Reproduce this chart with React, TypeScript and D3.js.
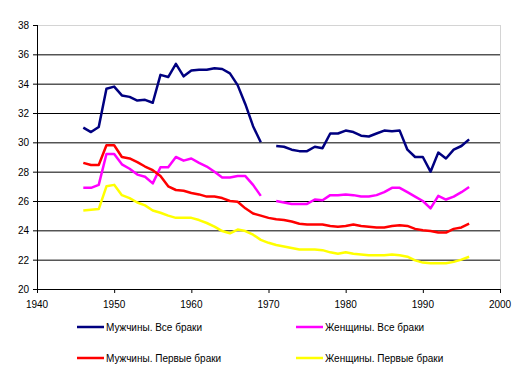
import React from "react";
import * as d3 from "d3";

const years = d3.range(1946, 1997);

// Мужчины. Все браки
const menAll = [
  31.0, 30.7, 31.05, 33.65, 33.8, 33.2, 33.1, 32.85, 32.9, 32.7,
  34.6, 34.45, 35.35, 34.5, 34.9, 34.95, 34.95, 35.05, 35.0, 34.7,
  33.9, 32.6, 31.1, 30.0, null, 29.75, 29.7, 29.5, 29.4, 29.4,
  29.7, 29.6, 30.6, 30.6, 30.8, 30.7, 30.45, 30.4, 30.6, 30.8,
  30.75, 30.8, 29.5, 29.0, 29.0, 28.0, 29.3, 28.9, 29.5, 29.75, 30.2,
];
// Женщины. Все браки
const womenAll = [
  26.9, 26.9, 27.1, 29.2, 29.2, 28.5, 28.2, 27.8, 27.65, 27.2,
  28.3, 28.3, 29.0, 28.75, 28.9, 28.6, 28.35, 28.0, 27.6, 27.6,
  27.7, 27.7, 27.1, 26.35, null, 26.0, 25.9, 25.8, 25.8, 25.8,
  26.1, 26.05, 26.4, 26.4, 26.45, 26.4, 26.3, 26.3, 26.4, 26.6,
  26.9, 26.9, 26.6, 26.3, 26.0, 25.5, 26.35, 26.1, 26.3, 26.6, 26.95,
];
// Мужчины. Первые браки
const menFirst = [
  28.6, 28.45, 28.45, 29.8, 29.8, 29.0, 28.9, 28.65, 28.35, 28.1,
  27.7, 27.0, 26.75, 26.7, 26.55, 26.45, 26.3, 26.3, 26.2, 26.0,
  25.95, 25.5, 25.15, 25.0, 24.85, 24.75, 24.7, 24.6, 24.45, 24.4,
  24.4, 24.4, 24.3, 24.25, 24.3, 24.4, 24.3, 24.25, 24.2, 24.2,
  24.3, 24.35, 24.3, 24.1, 24.0, 23.95, 23.85, 23.85, 24.1, 24.2, 24.45,
];
// Женщины. Первые браки
const womenFirst = [
  25.35, 25.4, 25.45, 27.0, 27.1, 26.4, 26.2, 25.9, 25.7, 25.35,
  25.2, 25.0, 24.85, 24.85, 24.85, 24.7, 24.5, 24.25, 23.95, 23.8,
  24.05, 23.95, 23.7, 23.35, 23.15, 23.0, 22.9, 22.8, 22.7, 22.7,
  22.7, 22.65, 22.5, 22.4, 22.5, 22.4, 22.35, 22.3, 22.3, 22.3,
  22.35, 22.3, 22.2, 21.95, 21.8, 21.75, 21.75, 21.75, 21.85, 22.0, 22.2,
];

const xTicks = [1940, 1950, 1960, 1970, 1980, 1990, 2000];
const yTicks = [20, 22, 24, 26, 28, 30, 32, 34, 36, 38];

const series = [
  { name: "Мужчины. Все браки", values: menAll, color: "#000080" },
  { name: "Женщины. Все браки", values: womenAll, color: "#FF00FF" },
  { name: "Мужчины. Первые браки", values: menFirst, color: "#FF0000" },
  { name: "Женщины. Первые браки", values: womenFirst, color: "#FFFF00" },
];

const W = 529;
const H = 373;
const left = 37;
const right = 500;
const top = 25;
const bottom = 289;
const font = "'Liberation Sans', Arial, sans-serif";

export default function App() {
  const x = d3.scaleLinear().domain([1940, 2000]).range([left, right]);
  const y = d3.scaleLinear().domain([20, 38]).range([bottom, top]);

  const line = d3
    .line<number | null>()
    .defined((d) => d != null)
    .x((_, i) => x(years[i]))
    .y((d) => y(d as number));

  return (
    <svg
      width={W}
      height={H}
      style={{ position: "absolute", left: 0, top: 0, background: "#fff" }}
    >
      {/* grid */}
      {yTicks.slice(1).map((t) => (
        <line
          key={t}
          x1={left}
          x2={right}
          y1={y(t) + 0.5}
          y2={y(t) + 0.5}
          stroke={t === 38 ? "#D4D4D4" : "#000"}
          strokeWidth={1}
        />
      ))}
      <line x1={right + 0.5} x2={right + 0.5} y1={top} y2={bottom} stroke="#D4D4D4" />

      {/* axes */}
      <line x1={left + 0.5} x2={left + 0.5} y1={top} y2={bottom + 1} stroke="#000" />
      <line x1={left} x2={right + 1} y1={bottom + 0.5} y2={bottom + 0.5} stroke="#000" />
      {yTicks.map((t) => (
        <g key={t}>
          <line x1={left - 4} x2={left} y1={y(t) + 0.5} y2={y(t) + 0.5} stroke="#000" />
          <text
            x={29}
            y={y(t) + 4}
            textAnchor="end"
            fontFamily={font}
            fontSize={10}
            fill="#000"
          >
            {t}
          </text>
        </g>
      ))}
      {xTicks.map((t) => (
        <g key={t}>
          <line x1={x(t) + 0.5} x2={x(t) + 0.5} y1={bottom} y2={bottom + 4} stroke="#000" />
          <text
            x={x(t)}
            y={308}
            textAnchor="middle"
            fontFamily={font}
            fontSize={10}
            fill="#000"
          >
            {t}
          </text>
        </g>
      ))}

      {/* series */}
      {series.map((s) => (
        <path
          key={s.name}
          d={line(s.values) || ""}
          fill="none"
          stroke={s.color}
          strokeWidth={2.5}
          strokeLinejoin="round"
        />
      ))}

      {/* legend */}
      {series.map((s, i) => {
        const lx = i % 2 === 0 ? 77 : 296;
        const ly = i < 2 ? 327 : 358;
        return (
          <g key={s.name}>
            <line x1={lx} x2={lx + 27} y1={ly} y2={ly} stroke={s.color} strokeWidth={2.5} />
            <text
              x={lx + 29}
              y={ly + 4}
              fontFamily={font}
              fontSize={10}
              fill="#000"
            >
              {s.name}
            </text>
          </g>
        );
      })}
    </svg>
  );
}
